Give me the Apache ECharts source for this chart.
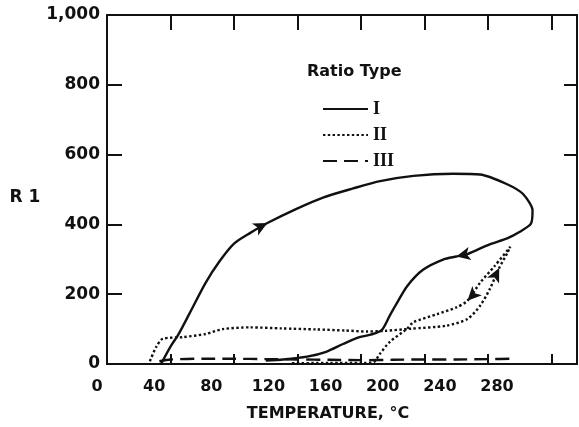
<!DOCTYPE html>
<html>
<head>
<meta charset="utf-8">
<script src="https://cdn.jsdelivr.net/npm/echarts@6/dist/echarts.min.js"></script>
<style>
html,body{margin:0;padding:0;background:#fff;}
#chart{width:579px;height:427px;}
</style>
</head>
<body>
<div id="chart"></div>
<script>
// ---- data (temperature °C, R1) ----
const xTickValues = [0, 40, 80, 120, 160, 200, 240, 280];
const yTickLabels = ['0', '200', '400', '600', '800', '1,000'];
const seriesNames = ['I', 'II', 'III'];
const typeI = [[34,0],[40,50],[45,85],[52,145],[62,232],[71,295],[80,345],[90,375],[101,404],[119,444],[136,477],[155,503],[172,524],[193,539],[218,545],[235,543],[252,515],[262,487],[268,440],[267,402],[260,379],[252,360],[241,343],[227,315],[220,308],[212,300],[199,270],[189,223],[182,170],[178,138],[173,97],[166,84],[159,77],[149,58],[138,35],[126,21],[111,13],[100,10]];
const typeII = [[27,8],[31,49],[35,72],[48,77],[62,86],[73,100],[90,105],[110,102],[132,99],[150,96],[164,93],[175,95],[191,101],[214,110],[227,129],[235,167],[241,214],[247,275],[252,317],[254,336],[244,280],[235,233],[227,181],[220,162],[208,143],[193,120],[189,101],[178,63],[172,30],[168,6],[160,3],[140,3],[115,2]];
const typeIII = [[33,8],[40,13],[60,15],[80,15],[100,14],[120,13],[140,12],[160,11],[180,12],[200,13],[220,13],[240,14],[256,15]];
// arrowheads: indices of data points carrying a direction arrow
const arrowsI = [8, 24];
const arrowsII = [17, 22];

const INK = '#111';
const FONT = 'DejaVu Sans';
const chart = echarts.init(document.getElementById('chart'));

const baseSeries = (name, data, type) => ({
  name: name, type: 'line', data: data, symbol: 'none', smooth: 0.25,
  xAxisIndex: 0, yAxisIndex: 0,
  lineStyle: {color: INK, width: 2.4, type: type},
  itemStyle: {color: INK}
});

chart.setOption({
  animation: false,
  backgroundColor: '#fff',
  grid: [
    {left: 107, right: 2, top: 15, bottom: 58},
    // label strip: the hand-lettered tick numbers of the original sit left of their ticks
    {left: 97, right: 2, top: 15, bottom: 58, show: false}
  ],
  title: {
    text: 'Ratio Type', left: 302, top: 59,
    textStyle: {fontFamily: FONT, fontWeight: 'bold', fontSize: 16, color: INK}
  },
  legend: {
    orient: 'vertical', left: 317, top: 95,
    itemWidth: 45, itemHeight: 12, itemGap: 8,
    data: seriesNames,
    itemStyle: {opacity: 0},
    textStyle: {fontFamily: 'Liberation Serif', fontWeight: 'bold', fontSize: 18, color: INK},
    inactiveColor: INK
  },
  xAxis: [{
    gridIndex: 0, type: 'value', position: 'bottom', min: 0, max: 296, interval: 40,
    name: 'TEMPERATURE, °C', nameLocation: 'middle', nameGap: 42,
    nameTextStyle: {fontFamily: FONT, fontWeight: 'bold', fontSize: 16, color: INK, padding: [0, 28, 0, 0]},
    axisLine: {onZero: false, lineStyle: {color: INK, width: 2}},
    axisTick: {inside: true, length: 10, lineStyle: {color: INK, width: 2}},
    axisLabel: {show: false},
    splitLine: {show: false}
  }, {
    gridIndex: 0, type: 'value', position: 'top', min: 0, max: 296, interval: 40,
    axisLine: {onZero: false, lineStyle: {color: INK, width: 2}},
    axisTick: {inside: true, length: 15, lineStyle: {color: INK, width: 2}},
    axisLabel: {show: false}, splitLine: {show: false}
  }, {
    gridIndex: 1, type: 'value', position: 'bottom', min: 0, max: 336, interval: 40,
    axisLine: {show: false, onZero: false}, axisTick: {show: false}, splitLine: {show: false},
    axisLabel: {margin: 10, showMaxLabel: false, fontFamily: FONT, fontWeight: 'bold', fontSize: 16, color: INK,
      formatter: v => (xTickValues.indexOf(v) >= 0 ? String(v) : '')}
  }],
  yAxis: [{
    gridIndex: 0, type: 'value', position: 'left', min: 0, max: 1000, interval: 200,
    name: 'R 1', nameLocation: 'middle', nameRotate: 0, nameGap: 60,
    nameTextStyle: {fontFamily: FONT, fontWeight: 'bold', fontSize: 17, color: INK, verticalAlign: 'top'},
    axisLine: {onZero: false, lineStyle: {color: INK, width: 2}},
    axisTick: {inside: true, length: 15, lineStyle: {color: INK, width: 2}},
    axisLabel: {margin: 7, fontFamily: FONT, fontWeight: 'bold', fontSize: 17, color: INK,
      formatter: (v) => yTickLabels[Math.round(v / 200)] || ''},
    splitLine: {show: false}
  }, {
    gridIndex: 0, type: 'value', position: 'right', min: 0, max: 1000, interval: 200,
    axisLine: {onZero: false, lineStyle: {color: INK, width: 2}},
    axisTick: {inside: true, length: 13, lineStyle: {color: INK, width: 2}},
    axisLabel: {show: false}, splitLine: {show: false}
  }, {
    gridIndex: 1, type: 'value', min: 0, max: 1000, show: false
  }],
  series: [
    baseSeries('I', typeI, 'solid'),
    baseSeries('II', typeII, [2.4, 2.4]),
    baseSeries('III', typeIII, [14, 7])
  ]
});

function arrowMarks(data, idxs) {
  return idxs.map(i => {
    const a = chart.convertToPixel({gridIndex: 0}, data[i - 1]);
    const b = chart.convertToPixel({gridIndex: 0}, data[i + 1]);
    const ang = Math.atan2(-(b[1] - a[1]), b[0] - a[0]) * 180 / Math.PI;
    return {coord: data[i], symbolRotate: ang - 90};
  });
}
const mp = (data) => ({
  symbol: 'arrow', symbolSize: [10, 14], silent: true,
  label: {show: false}, itemStyle: {color: INK, opacity: 1},
  data: data
});
chart.setOption({
  series: [
    {name: 'I', markPoint: mp(arrowMarks(typeI, arrowsI))},
    {name: 'II', markPoint: mp(arrowMarks(typeII, arrowsII))},
    {name: 'III'}
  ]
});
</script>
</body>
</html>
